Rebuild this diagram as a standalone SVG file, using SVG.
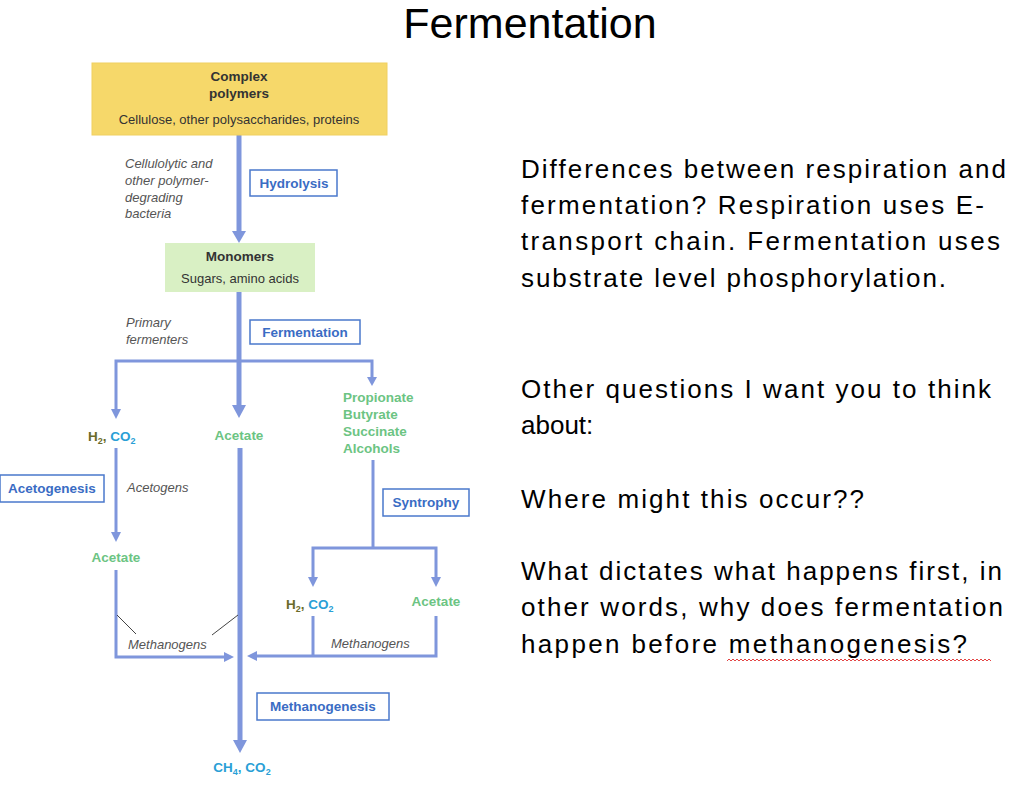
<svg xmlns="http://www.w3.org/2000/svg" width="1024" height="785" viewBox="0 0 1024 785">
<style>
.ln{stroke:#7f96dc;fill:none;stroke-width:3}
.mn{stroke:#7f96dc;fill:none;stroke-width:5}
.ah{fill:#7f96dc}
.bx{fill:#fff;stroke:#4a78cc;stroke-width:1.5}
.bl{font:bold 13.5px "Liberation Sans",sans-serif;fill:#3a6cc4}
.it{font:italic 13px "Liberation Sans",sans-serif;fill:#555}
.gr{font:bold 13.5px "Liberation Sans",sans-serif;fill:#6cc483}
.cy{font:bold 13.5px "Liberation Sans",sans-serif;fill:#2a9fd6}
.ol{fill:#6b6b2a}
.bk{font:bold 13.5px "Liberation Sans",sans-serif;fill:#333}
.nm{font:13px "Liberation Sans",sans-serif;fill:#333}
.rt{font:26px "Liberation Sans",sans-serif;fill:#000}
</style>
<rect width="1024" height="785" fill="#fff"/>
<text x="530" y="38" text-anchor="middle" style="font:43px 'Liberation Sans',sans-serif">Fermentation</text>
<g id="connectors">
<line class="mn" x1="239" y1="135" x2="239" y2="232"/><polygon class="ah" points="232,231 246,231 239,243"/>
<line class="mn" x1="239" y1="292" x2="239" y2="406"/><polygon class="ah" points="232,405 246,405 239,418"/>
<polyline class="ln" points="116,410 116,361 372,361 372,378"/>
<polygon class="ah" points="111,409 121,409 116,419"/><polygon class="ah" points="367,377 377,377 372,386"/>
<line class="ln" x1="116" y1="448" x2="116" y2="533"/><polygon class="ah" points="111,532 121,532 116,542"/>
<polyline class="ln" points="116,570 116,657 225,657"/><polygon class="ah" points="224,652 224,662 234,657"/>
<line class="mn" x1="240" y1="448" x2="240" y2="742"/><polygon class="ah" points="233,740 247,740 240,753"/>
<line stroke="#444" stroke-width="1" x1="117" y1="615" x2="136" y2="634"/>
<line stroke="#444" stroke-width="1" x1="238" y1="615" x2="212" y2="635"/>
<polyline class="ln" points="373,460 373,548"/>
<polyline class="ln" points="313,578 313,548 436,548 436,578"/>
<polygon class="ah" points="308,577 318,577 313,587"/><polygon class="ah" points="431,577 441,577 436,587"/>
<polyline class="ln" points="313,616 313,656"/>
<polyline class="ln" points="436,616 436,656 256,656"/><polygon class="ah" points="257,651 257,661 247,656"/>
</g>
<g id="complex"><rect x="92" y="63" width="295" height="72" fill="#f6d86a" stroke="#f0d060"/>
<text x="239" y="81" text-anchor="middle" class="bk">Complex</text><text x="239" y="98" text-anchor="middle" class="bk">polymers</text>
<text x="239" y="124" text-anchor="middle" class="nm">Cellulose, other polysaccharides, proteins</text></g>
<g id="monomers"><rect x="165" y="243" width="150" height="49" fill="#d9f0c4"/>
<text x="240" y="261" text-anchor="middle" class="bk">Monomers</text><text x="240" y="283" text-anchor="middle" class="nm">Sugars, amino acids</text></g>
<g id="hydrolysis-label"><text class="it"><tspan x="125" y="168">Cellulolytic and</tspan><tspan x="125" y="185">other polymer-</tspan><tspan x="125" y="202">degrading</tspan><tspan x="125" y="218">bacteria</tspan></text>
<rect class="bx" x="250" y="170" width="87" height="26"/><text x="294" y="188" text-anchor="middle" class="bl">Hydrolysis</text></g>
<g id="fermentation-label"><text class="it"><tspan x="126" y="327">Primary</tspan><tspan x="126" y="344">fermenters</tspan></text>
<rect class="bx" x="250" y="320" width="110" height="24"/><text x="305" y="337" text-anchor="middle" class="bl">Fermentation</text></g>
<g id="h2co2-1"><text x="88" y="441" class="cy"><tspan class="ol">H<tspan font-size="9" dy="3">2</tspan><tspan dy="-3">, </tspan></tspan>CO<tspan font-size="9" dy="3">2</tspan></text></g>
<g id="acetate-1"><text x="239" y="440" text-anchor="middle" class="gr">Acetate</text></g>
<g id="acids"><text class="gr"><tspan x="343" y="402">Propionate</tspan><tspan x="343" y="419">Butyrate</tspan><tspan x="343" y="436">Succinate</tspan><tspan x="343" y="453">Alcohols</tspan></text></g>
<g id="acetogenesis"><rect class="bx" x="0" y="475" width="104" height="27"/><text x="52" y="493" text-anchor="middle" class="bl">Acetogenesis</text>
<text x="127" y="492" class="it">Acetogens</text></g>
<g id="acetate-2"><text x="116" y="562" text-anchor="middle" class="gr">Acetate</text></g>
<g id="syntrophy"><rect class="bx" x="383" y="489" width="86" height="27"/><text x="426" y="507" text-anchor="middle" class="bl">Syntrophy</text></g>
<g id="h2co2-2"><text x="286" y="609" class="cy"><tspan class="ol">H<tspan font-size="9" dy="3">2</tspan><tspan dy="-3">, </tspan></tspan>CO<tspan font-size="9" dy="3">2</tspan></text></g>
<g id="acetate-3"><text x="436" y="606" text-anchor="middle" class="gr">Acetate</text></g>
<g id="methanogens"><text x="128" y="649" class="it">Methanogens</text><text x="331" y="648" class="it">Methanogens</text></g>
<g id="methanogenesis"><rect class="bx" x="257" y="693" width="132" height="27"/><text x="323" y="711" text-anchor="middle" class="bl">Methanogenesis</text></g>
<g id="ch4"><text x="242" y="772" text-anchor="middle" class="cy">CH<tspan font-size="9" dy="3">4</tspan><tspan dy="-3">, CO</tspan><tspan font-size="9" dy="3">2</tspan></text></g>
<g id="questions"><text class="rt"><tspan x="521" y="178" textLength="485">Differences between respiration and</tspan><tspan x="521" y="214" textLength="463">fermentation? Respiration uses E-</tspan><tspan x="521" y="250" textLength="479">transport chain.  Fermentation uses</tspan><tspan x="521" y="287" textLength="425">substrate level phosphorylation.</tspan>
<tspan x="521" y="398" textLength="470">Other questions I want you to think</tspan><tspan x="521" y="434">about:</tspan>
<tspan x="521" y="508" textLength="343">Where might this occur??</tspan>
<tspan x="521" y="580" textLength="481">What dictates what happens first, in</tspan><tspan x="521" y="616" textLength="482">other words, why does fermentation</tspan><tspan x="521" y="653" textLength="446">happen before methanogenesis?</tspan></text>
<path d="M727 661 l2 -2 l2 2 l2 -2 l2 2 l2 -2 l2 2 l2 -2 l2 2 l2 -2 l2 2 l2 -2 l2 2 l2 -2 l2 2 l2 -2 l2 2 l2 -2 l2 2 l2 -2 l2 2 l2 -2 l2 2 l2 -2 l2 2 l2 -2 l2 2 l2 -2 l2 2 l2 -2 l2 2 l2 -2 l2 2 l2 -2 l2 2 l2 -2 l2 2 l2 -2 l2 2 l2 -2 l2 2 l2 -2 l2 2 l2 -2 l2 2 l2 -2 l2 2 l2 -2 l2 2 l2 -2 l2 2 l2 -2 l2 2 l2 -2 l2 2 l2 -2 l2 2 l2 -2 l2 2 l2 -2 l2 2 l2 -2 l2 2 l2 -2 l2 2 l2 -2 l2 2 l2 -2 l2 2 l2 -2 l2 2 l2 -2 l2 2 l2 -2 l2 2 l2 -2 l2 2 l2 -2 l2 2 l2 -2 l2 2 l2 -2 l2 2 l2 -2 l2 2 l2 -2 l2 2 l2 -2 l2 2 l2 -2 l2 2 l2 -2 l2 2 l2 -2 l2 2 l2 -2 l2 2 l2 -2 l2 2 l2 -2 l2 2 l2 -2 l2 2 l2 -2 l2 2 l2 -2 l2 2 l2 -2 l2 2 l2 -2 l2 2 l2 -2 l2 2 l2 -2 l2 2 l2 -2 l2 2 l2 -2 l2 2 l2 -2 l2 2 l2 -2 l2 2 l2 -2 l2 2 l2 -2 l2 2 l2 -2 l2 2 l2 -2 l2 2 l2 -2 l2 2" fill="none" stroke="#e03030" stroke-width="0.9"/></g>
</svg>
